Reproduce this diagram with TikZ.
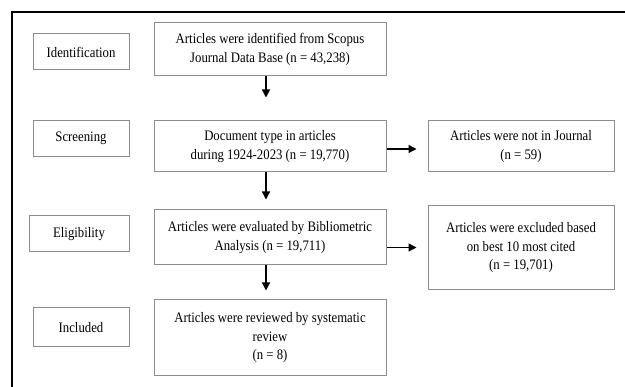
\documentclass[tikz,border=0pt]{standalone}
\usepackage{fontspec}
\setmainfont{Liberation Serif}[FakeStretch=0.88]
\usetikzlibrary{arrows.meta}
\definecolor{boxgray}{HTML}{8C8C8C}
\begin{document}
\begin{tikzpicture}[x=1pt,y=-1pt,
  box/.style={draw=boxgray, line width=1pt, align=center, inner sep=0pt,
    font=\fontsize{14.5}{18.5}\selectfont},
  arr/.style={-{Triangle[length=8pt,width=8pt]}, line width=1.3pt}]
\useasboundingbox (0,0) rectangle (625,387);
\draw[line width=1.3pt] (12,387) -- (12,12) -- (625,12);
% stage labels
\node[box, minimum width=96pt, minimum height=36pt] (id) at (81,52) {Identification};
\node[box, minimum width=96pt, minimum height=36pt] (sc) at (81,138.5) {Screening};
\node[box, minimum width=100pt, minimum height=36pt] (el) at (79,234) {Eligibility};
\node[box, minimum width=96pt, minimum height=39pt] (in) at (81,327.5) {Included};
% main boxes
\node[box, minimum width=232pt, minimum height=53pt] (b1) at (270,49.5)
  {Articles were identified from Scopus\\Journal Data Base (n = 43,238)};
\node[box, minimum width=232pt, minimum height=51pt] (b2) at (270,146.5)
  {Document type in articles\\during 1924-2023 (n = 19,770)};
\node[box, minimum width=232pt, minimum height=55pt] (b3) at (270,237.5)
  {Articles were evaluated by Bibliometric\\Analysis (n = 19,711)};
\node[box, minimum width=232pt, minimum height=76pt] (b4) at (270,338)
  {Articles were reviewed by systematic\\review\\(n = 8)};
% right boxes
\node[box, minimum width=186pt, minimum height=51pt] (r1) at (521,146.5)
  {Articles were not in Journal\\(n = 59)};
\node[box, minimum width=186pt, minimum height=84pt] (r2) at (521,248)
  {Articles were excluded based\\on best 10 most cited\\(n = 19,701)};
% arrows
\draw[arr, shorten >=23pt] ([xshift=-4pt]b1.south) -- ([xshift=-4pt]b2.north);
\draw[arr, shorten >=10pt] ([xshift=-4pt]b2.south) -- ([xshift=-4pt]b3.north);
\draw[arr, shorten >=9pt] ([xshift=-4pt]b3.south) -- ([xshift=-4pt]b4.north);
\draw[arr, shorten >=11pt] ([yshift=-2.5pt]b2.east) -- ([yshift=-2.5pt]b2.east -| r1.west);
\draw[arr, shorten >=11pt] ([yshift=-10pt]b3.east) -- ([yshift=-10pt]b3.east -| r2.west);
\end{tikzpicture}
\end{document}
